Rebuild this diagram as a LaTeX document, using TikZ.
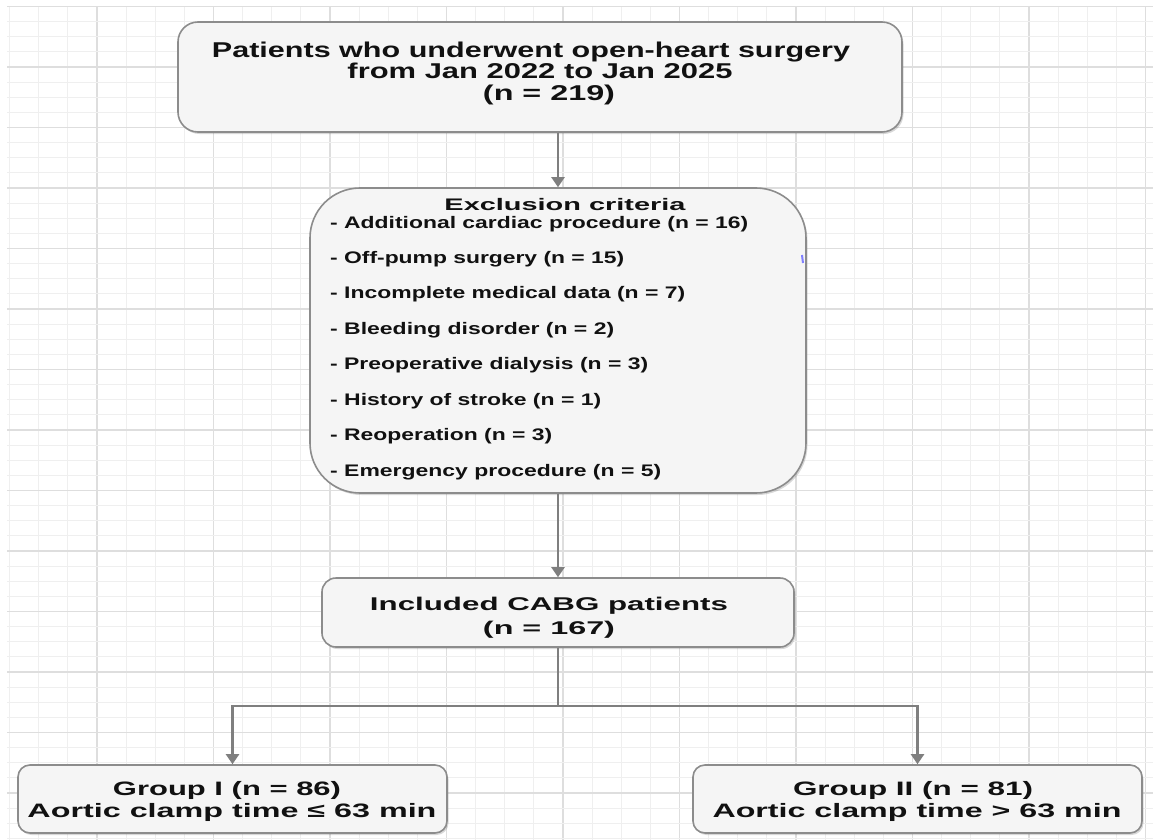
\documentclass[tikz,border=0pt]{standalone}
\usepackage{fontspec}
\setmainfont{Liberation Sans}
\usepackage{graphicx}
\usetikzlibrary{arrows.meta,shadows}
\definecolor{gridminor}{HTML}{EFEFEF}
\definecolor{gridmajor}{HTML}{DEDEDE}
\definecolor{boxfill}{HTML}{F5F5F5}
\definecolor{boxline}{HTML}{8C8C8C}
\definecolor{arrowgray}{HTML}{7F7F7F}
\definecolor{ink}{HTML}{111111}
\newcommand\wl[2]{\resizebox{#1bp}{\height}{#2}}
\begin{document}
\begin{tikzpicture}[x=1bp,y=-1bp,
  flowbox/.style={draw=boxline, line width=1.6bp, fill=boxfill, inner sep=0,
    drop shadow={shadow xshift=1.5bp, shadow yshift=-2bp, opacity=0.25, fill=black!60}},
  txt/.style={inner sep=0, text=ink, anchor=base},
  itm/.style={inner sep=0, text=ink, anchor=base west, font=\fontsize{16.8}{18}\selectfont\bfseries},
  fa/.style={font=\fontsize{21.5}{24}\selectfont\bfseries},
  fb/.style={font=\fontsize{16.8}{18}\selectfont\bfseries},
  fc/.style={font=\fontsize{18.5}{20}\selectfont\bfseries},
  fd/.style={font=\fontsize{19.5}{22}\selectfont\bfseries},
  arr/.style={draw=arrowgray, line width=2.2bp, -{Triangle[width=13bp,length=10bp]}},
  link/.style={draw=arrowgray, line width=2.2bp}]
\useasboundingbox (0,0) rectangle (1153,840);
\fill[white] (0,0) rectangle (1153,840);
% grid
\begin{scope}
\clip (7,6) rectangle (1153,840);
\foreach \i in {0,...,39} {
  \pgfmathsetmacro\xx{9.625+29.125*\i}
  \pgfmathtruncatemacro\mm{mod(\i,4)}
  \ifnum\mm=3
    \draw[gridmajor, line width=1.6bp] (\xx,6) -- (\xx,840);
  \else
    \draw[gridminor, line width=1bp] (\xx,6) -- (\xx,840);
  \fi
}
\foreach \j in {0,...,55} {
  \pgfmathsetmacro\yy{6.5+15.125*\j}
  \pgfmathtruncatemacro\mm{mod(\j,4)}
  \ifnum\mm=0
    \draw[gridmajor, line width=1.6bp] (7,\yy) -- (1153,\yy);
  \else
    \draw[gridminor, line width=1bp] (7,\yy) -- (1153,\yy);
  \fi
}
\end{scope}
% boxes
\node[flowbox, rounded corners=20bp, minimum width=724bp, minimum height=110bp] (b1) at (540,77) {};
\node[flowbox, rounded corners=50bp, minimum width=496bp, minimum height=305bp] (b2) at (558,340.5) {};
\node[flowbox, rounded corners=14bp, minimum width=472bp, minimum height=69bp] (b3) at (558,612.5) {};
\node[flowbox, rounded corners=12bp, minimum width=429bp, minimum height=68bp] (g1) at (232.5,799) {};
\node[flowbox, rounded corners=12bp, minimum width=449bp, minimum height=68bp] (g2) at (917.5,799) {};
% texts box 1
\node[txt, fa] (t1a) at (531,57) {\wl{638}{Patients who underwent open-heart surgery}};
\node[txt, fa] (t1b) at (540,78.5) {\wl{385}{from Jan 2022 to Jan 2025}};
\node[txt, fa] (t1c) at (549,100) {\wl{132}{(n = 219)}};
% texts box 2
\node[txt, fb] (t2h) at (565,210) {\wl{241}{Exclusion criteria}};
\node[itm] (i1) at (330,228) {\wl{418}{- Additional cardiac procedure (n = 16)}};
\node[itm] (i2) at (330,263) {\wl{294}{- Off-pump surgery (n = 15)}};
\node[itm] (i3) at (330,298) {\wl{355}{- Incomplete medical data (n = 7)}};
\node[itm] (i4) at (330,334) {\wl{284}{- Bleeding disorder (n = 2)}};
\node[itm] (i5) at (330,369) {\wl{318}{- Preoperative dialysis (n = 3)}};
\node[itm] (i6) at (330,405) {\wl{271}{- History of stroke (n = 1)}};
\node[itm] (i7) at (330,440) {\wl{222}{- Reoperation (n = 3)}};
\node[itm] (i8) at (330,476) {\wl{331}{- Emergency procedure (n = 5)}};
% texts box 3
\node[txt, fc] (t3a) at (549,610) {\wl{358}{Included CABG patients}};
\node[txt, fc] (t3b) at (549,634) {\wl{132}{(n = 167)}};
% group texts
\node[txt, fd] (g1a) at (227,795) {\wl{228}{Group I (n = 86)}};
\node[txt, fd] (g1b) at (232,817) {\wl{409}{Aortic clamp time ≤ 63 min}};
\node[txt, fd] (g2a) at (913,795) {\wl{240}{Group II (n = 81)}};
\node[txt, fd] (g2b) at (917,817) {\wl{409}{Aortic clamp time > 63 min}};
% small blue mark
\draw[blue!50, line width=2bp] (802,255) -- (803,263);
% connectors
\draw[arr] (b1.south -| b2.north) -- (b2.north);
\draw[arr] (b2.south) -- (b3.north);
\coordinate (split) at (558,706);
\draw[link] (b3.south) -- (split);
\draw[arr] (split) -| (g1.north);
\draw[arr] (split) -| (g2.north);
\end{tikzpicture}
\end{document}
